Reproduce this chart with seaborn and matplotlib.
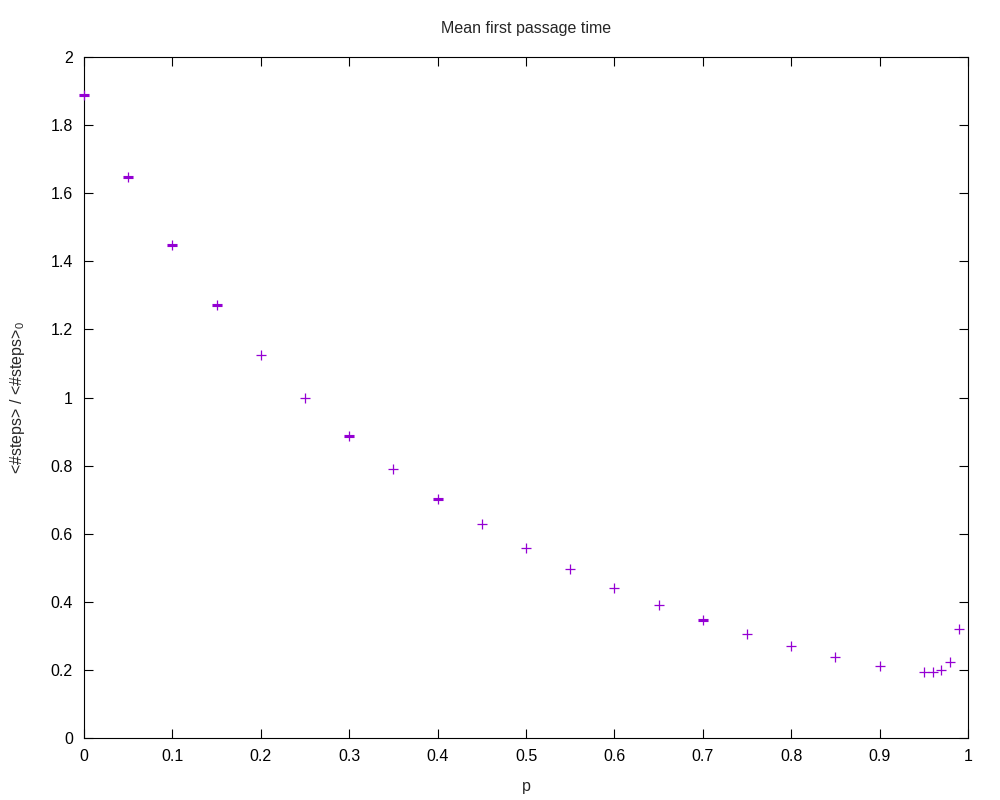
import matplotlib
matplotlib.use("Agg")
import matplotlib.pyplot as plt
import matplotlib.ticker as mticker
import numpy as np
import pandas as pd
import seaborn as sns

# values
p_values = [0.0, 0.05, 0.1, 0.15, 0.2, 0.25, 0.3, 0.35, 0.4, 0.45, 0.5, 0.55,
            0.6, 0.65, 0.7, 0.75, 0.8, 0.85, 0.9, 0.95, 0.96, 0.97, 0.98, 0.99]
ratio = [1.888, 1.647, 1.448, 1.273, 1.125, 0.999, 0.887, 0.790, 0.703, 0.628,
         0.558, 0.496, 0.441, 0.392, 0.347, 0.306, 0.271, 0.239, 0.212, 0.195,
         0.195, 0.200, 0.223, 0.320]
ratio_err = [0.003, 0.003, 0.003, 0.003, 0.0, 0.0, 0.003, 0.0, 0.003, 0.0,
             0.0, 0.0, 0.0, 0.0, 0.003, 0.0, 0.0, 0.0, 0.0, 0.0,
             0.0, 0.0, 0.0, 0.0]
x_ticks = [0, 0.1, 0.2, 0.3, 0.4, 0.5, 0.6, 0.7, 0.8, 0.9, 1]
y_ticks = [0, 0.2, 0.4, 0.6, 0.8, 1, 1.2, 1.4, 1.6, 1.8, 2]

color = "#9400D3"

sns.set_style("ticks")
plt.rcParams["font.family"] = ["Liberation Sans", "DejaVu Sans"]
plt.rcParams["mathtext.fontset"] = "custom"
plt.rcParams["mathtext.rm"] = "Liberation Sans"

df = pd.DataFrame({"p": p_values, "ratio": ratio, "err": ratio_err})
df_err = df[df["err"] > 0]

fig = plt.figure(figsize=(10, 8), dpi=100)
ax = fig.add_axes([0.084, 0.0775, 0.884, 0.85125])

ax.errorbar(df_err["p"], df_err["ratio"], yerr=df_err["err"], fmt="none",
            ecolor=color, elinewidth=0.8, capsize=3.5, capthick=0.8, zorder=3,
            clip_on=False)
sns.scatterplot(data=df, x="p", y="ratio", ax=ax, marker="+", color=color,
                s=50, linewidth=0.9, zorder=4, clip_on=False)

ax.set_xlim(0, 1)
ax.set_ylim(0, 2)
ax.set_xticks(x_ticks)
ax.set_yticks(y_ticks)
ax.xaxis.set_major_formatter(mticker.FormatStrFormatter("%g"))
ax.yaxis.set_major_formatter(mticker.FormatStrFormatter("%g"))
ax.tick_params(direction="in", length=6.5, width=0.8, top=True, right=True,
               labelsize=11.5, pad=8, colors="black")
for spine in ax.spines.values():
    spine.set_visible(True)
    spine.set_linewidth(0.8)
    spine.set_color("black")

ax.set_xlabel("p", fontsize=11.5, labelpad=11)
ax.set_ylabel(r"<#steps> / <#steps>$_{\mathregular{0}}$", fontsize=11.5, labelpad=17)
ax.set_title("Mean first passage time", fontsize=11.5, pad=17)

fig.savefig("out.png", dpi=100)
plt.close(fig)
